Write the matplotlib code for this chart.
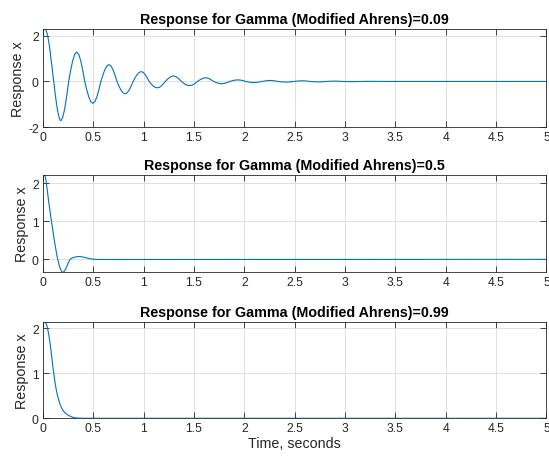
import matplotlib
matplotlib.use('Agg')
import matplotlib.pyplot as plt

# values
gammas = ['0.09', '0.5', '0.99']

t1 = [0.0, 0.01, 0.02, 0.03, 0.04, 0.05, 0.06, 0.07, 0.08, 0.09, 0.10, 0.11,
      0.12, 0.13, 0.14, 0.15, 0.16, 0.17, 0.175, 0.18, 0.195, 0.215, 0.235,
      0.255, 0.275, 0.295, 0.315, 0.335, 0.355, 0.375, 0.395, 0.415, 0.435,
      0.455, 0.475, 0.495, 0.515, 0.535, 0.555, 0.575, 0.595, 0.615, 0.635,
      0.655, 0.675, 0.695, 0.715, 0.735, 0.755, 0.775, 0.795, 0.815, 0.835,
      0.855, 0.875, 0.895, 0.915, 0.935, 0.955, 0.975, 0.995, 1.015, 1.035,
      1.055, 1.075, 1.095, 1.115, 1.135, 1.155, 1.175, 1.195, 1.215, 1.235,
      1.255, 1.275, 1.295, 1.315, 1.335, 1.355, 1.375, 1.395, 1.415, 1.435,
      1.455, 1.475, 1.495, 1.515, 1.535, 1.555, 1.575, 1.595, 1.615, 1.635,
      1.655, 1.675, 1.695, 1.715, 1.735, 1.755, 1.775, 1.795, 1.815, 1.835,
      1.855, 1.895, 1.935, 1.975, 2.015, 2.055, 2.095, 2.135, 2.175, 2.215,
      2.255, 2.295, 2.335, 2.375, 2.415, 2.455, 2.495, 2.535, 2.575, 2.615,
      2.655, 2.695, 2.735, 2.775, 2.815, 2.855, 2.895, 2.935, 2.975, 3.055,
      3.215, 3.4, 5.0]
x1 = [2.20, 2.28, 2.30, 2.25, 2.12, 1.92, 1.66, 1.35, 1.00, 0.62, 0.24, -0.14,
      -0.50, -0.84, -1.14, -1.39, -1.57, -1.69, -1.72, -1.71, -1.59, -1.22, -0.66,
      0.0, 0.49, 0.91, 1.19, 1.29, 1.19, 0.91, 0.49, 0.0, -0.37,
      -0.68, -0.89, -0.96, -0.89, -0.68, -0.37, 0.0, 0.28, 0.52, 0.68,
      0.74, 0.68, 0.52, 0.28, 0.0, -0.21, -0.38, -0.50, -0.54, -0.50,
      -0.38, -0.21, 0.0, 0.16, 0.30, 0.40, 0.43, 0.40, 0.30, 0.16,
      0.0, -0.11, -0.20, -0.26, -0.28, -0.26, -0.20, -0.11, 0.0, 0.09,
      0.17, 0.22, 0.24, 0.22, 0.17, 0.09, 0.0, -0.07, -0.13, -0.17,
      -0.18, -0.17, -0.13, -0.07, 0.0, 0.06, 0.11, 0.15, 0.16, 0.15,
      0.11, 0.06, 0.0, -0.04, -0.07, -0.09, -0.10, -0.09, -0.07, -0.04,
      0.0, 0.05, 0.07, 0.05, 0.0, -0.035, -0.05, -0.035, 0.0, 0.03,
      0.045, 0.03, 0.0, -0.02, -0.03, -0.02, 0.0, 0.02, 0.03, 0.02,
      0.0, -0.015, -0.02, -0.015, 0.0, 0.01, 0.015, 0.01, 0.0, -0.01,
      0.005, 0.0, 0.0]

t2 = [0.0, 0.01, 0.02, 0.03, 0.04, 0.05, 0.06, 0.08, 0.10, 0.12, 0.14, 0.147,
      0.16, 0.17, 0.18, 0.19, 0.197, 0.205, 0.215, 0.23, 0.25, 0.26, 0.27,
      0.285, 0.30, 0.32, 0.34, 0.37, 0.40, 0.43, 0.47, 0.52, 0.6, 5.0]
x2 = [2.20, 2.23, 2.21, 2.08, 1.88, 1.66, 1.45, 1.08, 0.72, 0.38, 0.08, 0.0,
      -0.15, -0.23, -0.29, -0.33, -0.34, -0.33, -0.30, -0.23, -0.10, -0.045, 0.0,
      0.03, 0.048, 0.063, 0.072, 0.075, 0.06, 0.04, 0.015, 0.0, -0.003, 0.0]

t3 = [0.0, 0.01, 0.02, 0.03, 0.04, 0.05, 0.06, 0.07, 0.08, 0.09, 0.10, 0.11,
      0.12, 0.13, 0.14, 0.15, 0.16, 0.17, 0.185, 0.20, 0.22, 0.245, 0.27, 0.30,
      0.33, 0.37, 0.40, 5.0]
x3 = [2.10, 2.14, 2.15, 2.12, 2.05, 1.95, 1.83, 1.68, 1.50, 1.31, 1.12, 0.95,
      0.79, 0.66, 0.55, 0.46, 0.38, 0.31, 0.23, 0.17, 0.12, 0.075, 0.045, 0.02,
      0.008, 0.002, 0.0, 0.0]

ylims = [(-2, 2.3), (-0.34, 2.23), (0, 2.15)]
yticks = [[-2, 0, 2], [0, 1, 2], [0, 1, 2]]
xticks = [0, 0.5, 1, 1.5, 2, 2.5, 3, 3.5, 4, 4.5, 5]
xticklabels = ['0', '0.5', '1', '1.5', '2', '2.5', '3', '3.5', '4', '4.5', '5']

plt.rcParams['font.family'] = ['Liberation Sans', 'DejaVu Sans']
plt.rcParams['axes.unicode_minus'] = False

dark = '#262626'
fig = plt.figure(figsize=(5.49, 4.6), dpi=100)
boxes = [[0.0783, 0.7217, 0.917, 0.213],
         [0.0783, 0.4059, 0.917, 0.212],
         [0.0783, 0.0885, 0.917, 0.210]]
series = [(t1, x1), (t2, x2), (t3, x3)]

for i in range(3):
    ax = fig.add_axes(boxes[i])
    t, x = series[i]
    ax.plot(t, x, color='#0072BD', linewidth=0.8)
    ax.set_xlim(0, 5)
    ax.set_ylim(*ylims[i])
    ax.set_xticks(xticks)
    ax.set_xticklabels(xticklabels)
    ax.set_yticks(yticks[i])
    ax.grid(True, color='#dcdcdc', linewidth=0.6)
    ax.set_axisbelow(True)
    ax.tick_params(direction='in', top=True, right=True, length=4, width=0.6,
                   colors=dark, labelsize=8.7, pad=3)
    for s in ax.spines.values():
        s.set_color(dark)
        s.set_linewidth(0.6)
    ax.set_title('Response for Gamma (Modified Ahrens)=' + gammas[i],
                 fontsize=10.3, fontweight='bold', pad=4, color='black')
    ax.set_ylabel('Response x', fontsize=10.3, color=dark, labelpad=2)
    if i == 2:
        ax.set_xlabel('Time, seconds', fontsize=10.3, color=dark, labelpad=1)

fig.savefig('out.png', dpi=100)
